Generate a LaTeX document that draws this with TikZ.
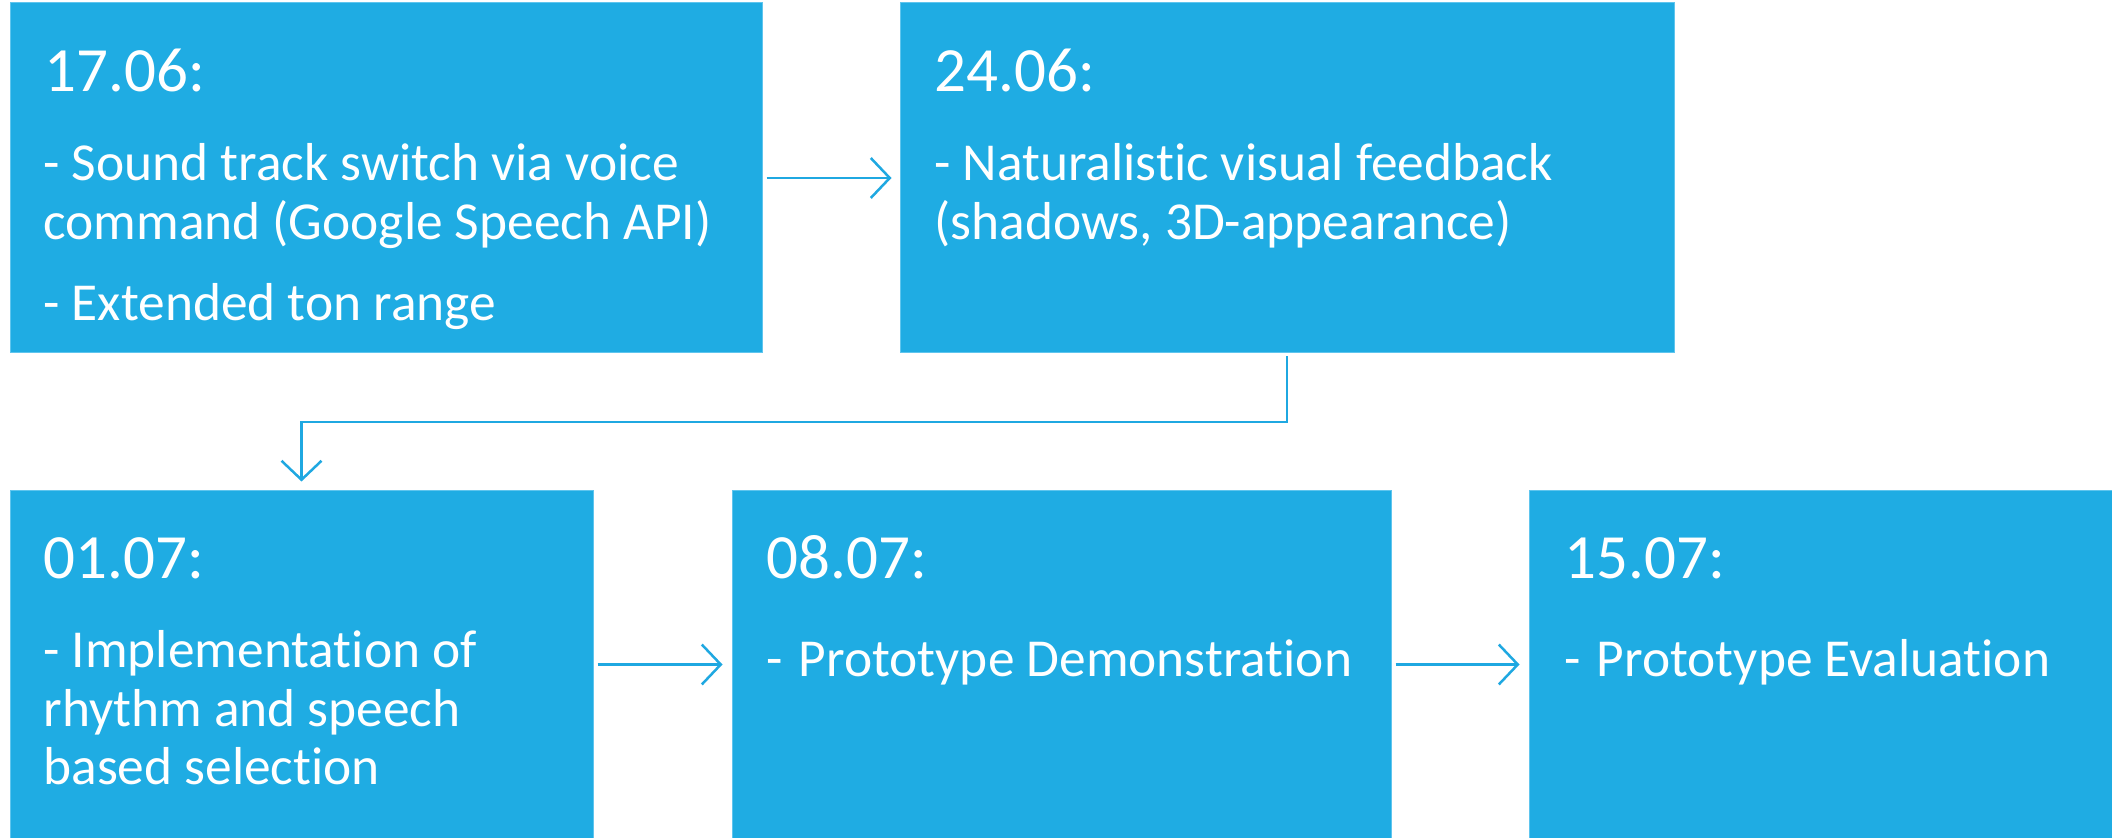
\documentclass[tikz,border=0pt]{standalone}
\usepackage{fontspec}
\setmainfont{Carlito}[Ligatures=NoCommon]
\usetikzlibrary{arrows.meta,fit}
\definecolor{boxblue}{RGB}{31,172,227}
\definecolor{boxedge}{RGB}{95,197,238}
\definecolor{arrowblue}{RGB}{31,168,225}
\begin{document}
\begin{tikzpicture}[x=0.5pt,y=-0.5pt,
  box/.style={fill=boxblue,draw=boxedge,line width=0.5pt,inner sep=0pt},
  datelabel/.style={anchor=base west,inner sep=0pt,text=white,font=\fontsize{31.5}{36}\selectfont},
  bodytext/.style={anchor=base west,inner sep=0pt,text=white,font=\fontsize{26.7}{29}\selectfont},
  conn/.style={draw=arrowblue,line width=1.25pt,-{Straight Barb[length=9.5pt,width=20pt]}}]
\fill[white] (0,0) rectangle (2112,838);
\useasboundingbox (0,0) rectangle (2112,838);

\node[box,fit={(10,3)(762,353)}] (b1) {};
\node[box,fit={(900,3)(1674,353)}] (b2) {};
\node[box,fit={(10,491)(593,838)}] (b3) {};
\node[box,fit={(732,491)(1391,838)}] (b4) {};
\node[box,fit={(1529,491)(2112,838)}] (b5) {};

% box 1
\node[datelabel] (t1) at (44,92) {17.06:};
\node[bodytext] (t1a) at (43,181) {- Sound track switch via voice};
\node[bodytext] (t1b) at (43,240) {command (Google Speech API)};
\node[bodytext] (t1c) at (43,321) {- Extended ton range};
% box 2
\node[datelabel] (t2) at (934,92) {24.06:};
\node[bodytext] (t2a) at (934,181) {- Naturalistic visual feedback};
\node[bodytext] (t2b) at (934,240) {(shadows, 3D-appearance)};
% box 3
\node[datelabel] (t3) at (43,579) {01.07:};
\node[bodytext] (t3a) at (43,667) {- Implementation of};
\node[bodytext] (t3b) at (43,726) {rhythm and speech};
\node[bodytext] (t3c) at (43,784) {based selection};
% box 4
\node[datelabel] (t4) at (766,578) {08.07:};
\node[bodytext] (t4a) at (766,676) {-\hspace{2pt} Prototype Demonstration};
% box 5
\node[datelabel] (t5) at (1564,578) {15.07:};
\node[bodytext] (t5a) at (1564,676) {-\hspace{2pt} Prototype Evaluation};

\coordinate (mid) at (0,422);
\draw[conn,shorten <=2pt,shorten >=4pt] (b1.east) -- (b2.west);
\draw[conn,shorten <=1.5pt,shorten >=4.5pt] (b2.south) -- (b2.south |- mid) -| (b3.north);
\draw[conn,shorten <=2pt,shorten >=4.5pt] (b3.east) -- (b4.west);
\draw[conn,shorten <=2pt,shorten >=4.5pt] (b4.east) -- (b5.west);
\end{tikzpicture}
\end{document}
